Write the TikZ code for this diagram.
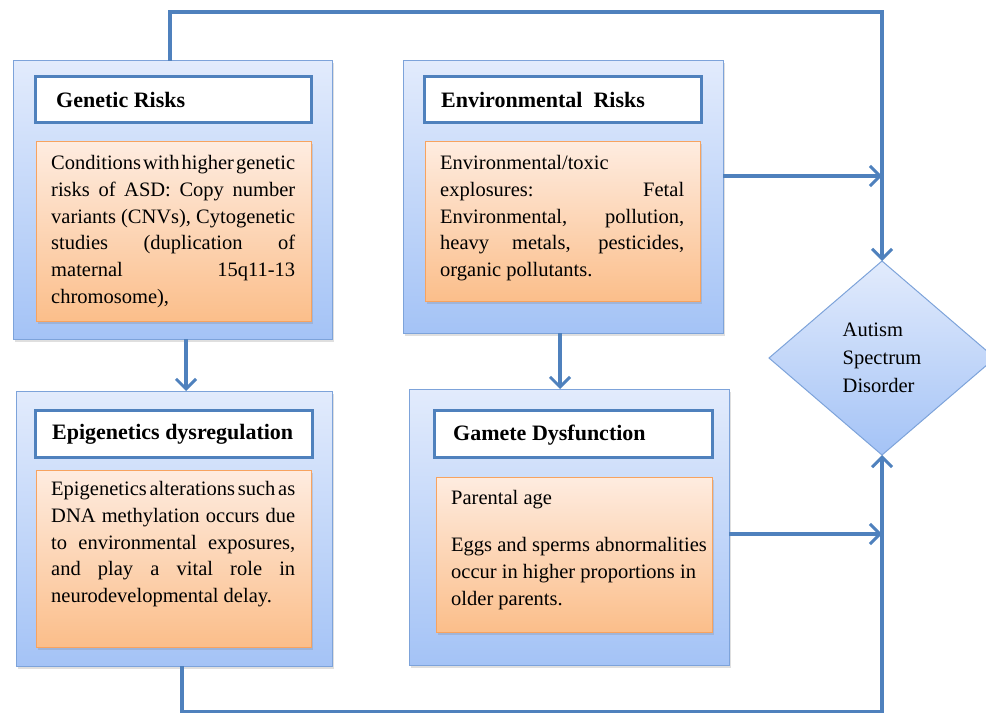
\documentclass[tikz,border=0pt]{standalone}
\usepackage{fontspec}
\setmainfont{Liberation Serif}
\usetikzlibrary{arrows.meta,shapes.geometric,shadows}
\definecolor{blueline}{RGB}{79,129,189}
\definecolor{outline}{RGB}{125,163,218}
\definecolor{outtop}{RGB}{226,235,252}
\definecolor{outbot}{RGB}{164,195,246}
\definecolor{ortop}{RGB}{254,236,224}
\definecolor{orbot}{RGB}{251,190,138}
\definecolor{orline}{RGB}{247,163,96}
\newlength{\jw}
\setlength{\jw}{244pt}
\newcommand{\jline}[1]{\makebox[\jw][s]{\spaceskip=0.25em plus 2em minus 0.25em #1}}
\tikzset{
  outerbox/.style={draw=outline, line width=1pt, top color=outtop, bottom color=outbot,
    anchor=north west, inner sep=0pt, outer sep=0pt,
    drop shadow={shadow xshift=2pt, shadow yshift=-2.5pt, opacity=0.25}},
  titlebox/.style={draw=blueline, line width=3pt, fill=white, anchor=north west,
    inner sep=0pt, outer sep=0pt},
  bodybox/.style={draw=orline, line width=1pt, top color=ortop, bottom color=orbot,
    anchor=north west, inner sep=0pt, outer sep=0pt,
    drop shadow={shadow xshift=2pt, shadow yshift=-2.5pt, opacity=0.25}},
  titletxt/.style={font=\bfseries\fontsize{22}{26}\selectfont, anchor=base west, inner sep=0pt},
  bodytxt/.style={font=\fontsize{20.5}{26.8}\selectfont, anchor=north west, inner sep=0pt, align=left},
  conn/.style={draw=blueline, line width=3.5pt},
  arr/.style={conn, -{Straight Barb[length=10pt, width=20pt, line width=3pt]}},
  asdshape/.style={diamond, draw=outline, line width=1pt, top color=outtop, bottom color=outbot,
    minimum width=226pt, minimum height=194pt, inner sep=0pt, outer sep=0pt,
    font=\fontsize{20.5}{28}\selectfont, align=left}
}
\begin{document}
\begin{tikzpicture}[x=1pt,y=-1pt]
\useasboundingbox (0,0) rectangle (986,714);

% outer boxes
\node[outerbox, minimum width=319pt, minimum height=278pt] (gen) at (13,61) {};
\node[outerbox, minimum width=320pt, minimum height=272pt] (env) at (403,61) {};
\node[outerbox, minimum width=316pt, minimum height=275pt] (epi) at (16,391) {};
\node[outerbox, minimum width=320pt, minimum height=276pt] (gam) at (409,389) {};

% title boxes
\node[titlebox, minimum width=276pt, minimum height=46pt] (gent) at (35,77) {};
\node[titlebox, minimum width=277pt, minimum height=46pt] (envt) at (424,77) {};
\node[titlebox, minimum width=277pt, minimum height=47pt] (epit) at (35,410) {};
\node[titlebox, minimum width=278pt, minimum height=47pt] (gamt) at (434,410) {};

\node[titletxt] (gentx) at (56,108) {Genetic Risks};
\node[titletxt] (envtx) at (441,108) {Environmental\ \ Risks};
\node[titletxt] (epitx) at (52,439) {Epigenetics dysregulation};
\node[titletxt] (gamtx) at (453,440) {Gamete Dysfunction};

% orange boxes
\node[bodybox, minimum width=275pt, minimum height=180pt] (genb) at (36,142) {};
\node[bodybox, minimum width=275pt, minimum height=160pt] (envb) at (425,142) {};
\node[bodybox, minimum width=275pt, minimum height=177pt] (epib) at (36,470) {};
\node[bodybox, minimum width=276pt, minimum height=155pt] (gamb) at (436,477) {};

\node[bodytxt] (genbx) at (51,155) {\jline{Conditions with higher genetic}\\
\jline{risks of ASD: Copy number}\\
\jline{variants (CNVs), Cytogenetic}\\
\jline{studies (duplication of}\\
\jline{maternal 15q11-13}\\
chromosome),};

\node[bodytxt] (envbx) at (440,155) {Environmental/toxic\\
\jline{explosures: Fetal}\\
\jline{Environmental, pollution,}\\
\jline{heavy metals, pesticides,}\\
organic pollutants.};

\node[bodytxt] (epibx) at (51,481) {\jline{Epigenetics alterations such as}\\
\jline{DNA methylation occurs due}\\
\jline{to environmental exposures,}\\
\jline{and play a vital role in}\\
neurodevelopmental delay.};

\node[bodytxt] (gambx) at (451,490) {Parental age\\[20.5pt]
Eggs and sperms abnormalities\\
occur in higher proportions in\\
older parents.};

% diamond
\node[asdshape] (asd) at (882,358) {Autism\\Spectrum\\Disorder};

% connectors
\coordinate (tl) at (170,12);
\coordinate (tr) at (882,12);
\draw[arr] (gen.north -| tl) -- (tl) -- (tr) -- (asd.north);

\coordinate (ej) at (882,176);
\draw[arr] (env.east |- ej) -- (ej);

\coordinate (gj) at (882,534);
\draw[arr] (gam.east |- gj) -- (gj);

\coordinate (bl) at (182,711.5);
\coordinate (br) at (882,711.5);
\draw[arr] (epi.south -| bl) -- (bl) -- (br) -- (asd.south);

\coordinate (gx) at (186,0);
\draw[arr] (gen.south -| gx) -- (epi.north -| gx);

\coordinate (ex) at (560,0);
\draw[arr] (env.south -| ex) -- (gam.north -| ex);
\end{tikzpicture}
\end{document}
